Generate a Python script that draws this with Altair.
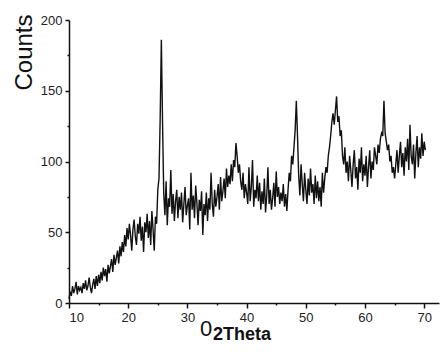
import altair as alt
import numpy as np
import pandas as pd

# 2Theta sampling grid (degrees)
two_theta_start = 10.0
two_theta_step = 0.2

# Counts, 5 values per degree (x.0, x.2, x.4, x.6, x.8)
counts = [
    3, 8, 5, 12, 7,          # 10
    10, 15, 6, 12, 9,        # 11
    11, 7, 14, 10, 16,       # 12
    9, 12, 18, 11, 7,        # 13
    13, 17, 10, 19, 12,      # 14
    20, 14, 22, 16, 25,      # 15
    19, 24, 15, 27, 21,      # 16
    26, 31, 22, 34, 27,      # 17
    32, 37, 28, 40, 33,      # 18
    43, 36, 48, 40, 53,      # 19
    45, 56, 48, 37, 52,      # 20
    59, 47, 41, 56, 49,      # 21
    61, 44, 54, 36, 57,      # 22
    50, 63, 46, 58, 41,      # 23
    65, 52, 37, 61, 56,      # 24
    80, 88, 130, 186, 128,   # 25
    78, 62, 86, 55, 74,      # 26
    68, 94, 63, 77, 58,      # 27
    72, 80, 60, 75, 66,      # 28
    78, 57, 70, 82, 62,      # 29
    69, 74, 52, 92, 66,      # 30
    76, 60, 83, 71, 55,      # 31
    73, 65, 79, 48, 70,      # 32
    62, 78, 58, 74, 66,      # 33
    92, 70, 61, 80, 68,      # 34
    75, 84, 66, 89, 72,      # 35
    79, 88, 74, 95, 82,      # 36
    90, 84, 98, 86, 101,     # 37
    96, 113, 104, 92, 98,    # 38
    86, 80, 92, 74, 84,      # 39
    78, 70, 96, 72, 82,      # 40
    101, 68, 80, 74, 90,     # 41
    72, 85, 66, 79, 70,      # 42
    88, 64, 76, 96, 70,      # 43
    80, 66, 74, 85, 68,      # 44
    93, 75, 82, 70, 78,      # 45
    72, 84, 68, 77, 65,      # 46
    80, 92, 86, 104, 98,     # 47
    110, 122, 143, 118, 90,  # 48
    76, 98, 84, 72, 92,      # 49
    80, 70, 88, 76, 95,      # 50
    78, 84, 70, 90, 74,      # 51
    86, 72, 82, 68, 92,      # 52
    78, 88, 96, 92, 104,     # 53
    110, 118, 128, 134, 126, # 54
    136, 146, 128, 132, 118, # 55
    122, 104, 98, 110, 92,   # 56
    100, 86, 104, 94, 82,    # 57
    98, 108, 88, 96, 80,     # 58
    102, 92, 110, 86, 98,    # 59
    90, 104, 82, 96, 108,    # 60
    88, 100, 94, 110, 104,   # 61
    98, 112, 106, 116, 120,  # 62
    118, 143, 120, 114, 108, # 63
    112, 100, 104, 92, 96,   # 64
    88, 98, 108, 92, 104,    # 65
    114, 96, 106, 90, 110,   # 66
    100, 116, 94, 126, 104,  # 67
    98, 112, 88, 106, 118,   # 68
    96, 110, 102, 120, 104,  # 69
    114, 108,                # 70
]

x_ticks = [10, 15, 20, 25, 30, 35, 40, 45, 50, 55, 60, 65, 70]
y_ticks = [0, 25, 50, 75, 100, 125, 150, 175, 200]

two_theta = np.round(two_theta_start + two_theta_step * np.arange(len(counts)), 2)
df = pd.DataFrame({"two_theta": two_theta, "counts": counts})

FONT = "Liberation Sans"

line = alt.Chart(df).mark_line(color="#111111", strokeWidth=1.4).encode(
    x=alt.X(
        "two_theta:Q",
        scale=alt.Scale(domain=[10, 72.5], nice=False, zero=False),
        axis=alt.Axis(
            values=x_ticks,
            labelExpr="datum.value % 10 === 0 ? datum.label : ''",
            tickSize={"condition": {"test": "datum.value % 10 === 0", "value": 5}, "value": 2},
            title=None,
            grid=False,
            domainColor="#111111",
            domainWidth=1.5,
            tickColor="#111111",
            tickWidth=1.5,
            labelFont=FONT,
            labelFontSize=13,
            labelColor="#222222",
            labelPadding=3,
        ),
    ),
    y=alt.Y(
        "counts:Q",
        scale=alt.Scale(domain=[0, 200], nice=False),
        axis=alt.Axis(
            values=y_ticks,
            labelExpr="datum.value % 50 === 0 ? datum.label : ''",
            tickSize={"condition": {"test": "datum.value % 50 === 0", "value": 4}, "value": 2},
            title="Counts",
            titleFont=FONT,
            titleFontSize=24,
            titleFontWeight="normal",
            titleColor="#111111",
            titleAngle=270,
            titleAlign="center",
            titleBaseline="alphabetic",
            titleX=-38,
            titleY=32,
            grid=False,
            domainColor="#111111",
            domainWidth=1.5,
            tickColor="#111111",
            tickWidth=1.5,
            labelFont=FONT,
            labelFontSize=13,
            labelColor="#222222",
            labelPadding=3,
        ),
    ),
)

title_main = alt.Chart(pd.DataFrame({"t": ["0"]})).mark_text(
    font=FONT, fontSize=22, color="#111111", align="left", baseline="alphabetic"
).encode(text="t:N", x=alt.value(131), y=alt.value(316))

title_sub = alt.Chart(pd.DataFrame({"t": ["2Theta"]})).mark_text(
    font=FONT, fontSize=18, fontWeight="bold", color="#111111", align="left", baseline="alphabetic"
).encode(text="t:N", x=alt.value(144), y=alt.value(320))

chart = (
    alt.layer(line, title_main, title_sub)
    .properties(
        width=370,
        height=283,
        autosize=alt.AutoSizeParams(type="none"),
        padding={"left": 61, "top": 12, "right": 1, "bottom": 41},
        background="white",
    )
    .configure_view(stroke=None)
)

chart.save("out.html", embed_options={"renderer": "svg", "actions": False})
